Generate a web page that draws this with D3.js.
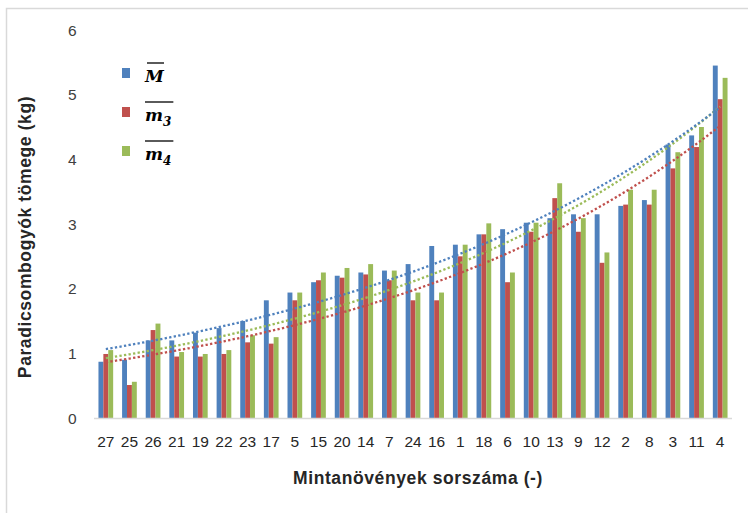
<!DOCTYPE html>
<html>
<head>
<meta charset="utf-8">
<script src="https://cdn.jsdelivr.net/npm/d3@7/dist/d3.min.js"></script>
<style>
  html, body { margin: 0; padding: 0; background: #fff; }
  svg { display: block; }
</style>
</head>
<body>
<svg id="chart" width="748" height="513"></svg>
<script>
// Plant serial numbers, ordered by increasing fruit mass
const categories = ["27","25","26","21","19","22","23","17","5","15","20","14","7","24","16","1","18","6","10","13","9","12","2","8","3","11","4"];

// Mean fruit mass per plant (kg) for the three measures
const valuesM  = [0.87,0.90,1.20,1.20,1.32,1.39,1.50,1.82,1.94,2.10,2.20,2.25,2.28,2.38,2.66,2.68,2.84,2.92,3.02,3.09,3.15,3.15,3.28,3.37,4.23,4.37,5.45];
const valuesM3 = [0.99,0.51,1.36,0.95,0.95,0.99,1.17,1.15,1.82,2.13,2.17,2.22,2.13,1.82,1.82,2.50,2.84,2.10,2.88,3.40,2.88,2.40,3.30,3.30,3.86,4.19,4.93];
const valuesM4 = [1.05,0.56,1.46,1.02,0.99,1.05,1.28,1.25,1.94,2.25,2.32,2.38,2.28,1.94,1.94,2.68,3.01,2.25,3.02,3.63,3.09,2.56,3.53,3.53,4.11,4.50,5.26];

const yTicks = [0,1,2,3,4,5,6];
const seriesKeys = ["M","m3","m4"];
const seriesColors = ["#4f81bd","#c0504d","#9bbb59"];

const series = [
  { key: "M",  values: valuesM,  color: seriesColors[0] },
  { key: "m3", values: valuesM3, color: seriesColors[1] },
  { key: "m4", values: valuesM4, color: seriesColors[2] }
];

const svg = d3.select("#chart");
const W = 748, H = 513;
const plot = { left: 94, right: 732, top: 30, bottom: 418 };
const sans = "Liberation Sans, Arial, sans-serif";

svg.append("rect").attr("width", W).attr("height", H).attr("fill", "#fff");

// chart frame
svg.append("path")
  .attr("d", `M6.5,${H} V8.5 H${W}`)
  .attr("fill", "none")
  .attr("stroke", "#d9d9d9")
  .attr("stroke-width", 1.5);

const x = d3.scaleBand().domain(categories).range([plot.left, plot.right]).padding(0);
const bw = x.bandwidth();
const groupW = 14.7;
const x1 = d3.scaleBand().domain(seriesKeys).range([(bw - groupW) / 2, (bw + groupW) / 2]).padding(0);
const y = d3.scaleLinear().domain([0, 6]).range([plot.bottom, plot.top]);

// y tick labels
svg.append("g")
  .selectAll("text")
  .data(yTicks)
  .join("text")
  .attr("x", 76.5)
  .attr("y", d => y(d))
  .attr("dy", "0.36em")
  .attr("text-anchor", "end")
  .attr("font-family", sans)
  .attr("font-size", 15.5)
  .attr("fill", "#404040")
  .text(d => d);

// bars
const bars = svg.append("g");
series.forEach(s => {
  bars.append("g")
    .selectAll("rect")
    .data(s.values)
    .join("rect")
    .attr("x", (d, i) => x(categories[i]) + x1(s.key))
    .attr("width", x1.bandwidth())
    .attr("y", d => y(d))
    .attr("height", d => y(0) - y(d))
    .attr("fill", s.color);
});

// category axis baseline
svg.append("line")
  .attr("x1", plot.left).attr("x2", plot.right)
  .attr("y1", plot.bottom + 0.5).attr("y2", plot.bottom + 0.5)
  .attr("stroke", "#d9d9d9")
  .attr("stroke-width", 1.5);

// category labels
svg.append("g")
  .selectAll("text")
  .data(categories)
  .join("text")
  .attr("x", d => x(d) + bw / 2)
  .attr("y", 447)
  .attr("text-anchor", "middle")
  .attr("font-family", sans)
  .attr("font-size", 15.5)
  .attr("fill", "#262626")
  .text(d => d);

// exponential trendlines: least-squares fit of ln(y) against category index
function expFit(vals) {
  const xs = vals.map((v, i) => i + 1);
  const ls = vals.map(v => Math.log(v));
  const mx = d3.mean(xs), ml = d3.mean(ls);
  let sxy = 0, sxx = 0;
  xs.forEach((xv, i) => { sxy += (xv - mx) * (ls[i] - ml); sxx += (xv - mx) * (xv - mx); });
  const b = sxy / sxx, a = ml - b * mx;
  return xv => Math.exp(a + b * xv);
}

const trends = svg.append("g");
[series[1], series[2], series[0]].forEach(s => {
  const f = expFit(s.values);
  const pts = d3.range(0, categories.length - 1 + 0.001, 0.25)
    .map(t => ({ px: plot.left + bw / 2 + t * bw, v: f(t + 1) }));
  trends.append("path")
    .attr("d", d3.line().x(d => d.px).y(d => y(d.v))(pts))
    .attr("fill", "none")
    .attr("stroke", s.color)
    .attr("stroke-width", 2.3)
    .attr("stroke-dasharray", "2.3 2.3");
});

// axis titles
svg.append("text")
  .attr("x", 418)
  .attr("y", 484)
  .attr("text-anchor", "middle")
  .attr("font-family", sans)
  .attr("font-weight", "bold")
  .attr("font-size", 17.5)
  .attr("letter-spacing", 0.6)
  .attr("fill", "#262626")
  .text("Mintanövények sorszáma (-)");

svg.append("text")
  .attr("transform", "translate(31,237) rotate(-90)")
  .attr("text-anchor", "middle")
  .attr("font-family", sans)
  .attr("font-weight", "bold")
  .attr("font-size", 17.5)
  .attr("letter-spacing", 0.6)
  .attr("fill", "#262626")
  .text("Paradicsombogyók tömege (kg)");

// legend
const legendY = [68, 107, 146];
const legend = svg.append("g");
series.forEach((s, k) => {
  const g = legend.append("g");
  g.append("rect")
    .attr("x", 122).attr("y", legendY[k])
    .attr("width", 8).attr("height", 10)
    .attr("fill", s.color);
  const t = g.append("text")
    .attr("x", 145)
    .attr("y", legendY[k] + 13.5)
    .attr("font-family", "DejaVu Serif, Liberation Serif, serif")
    .attr("font-style", "italic")
    .attr("font-weight", "bold")
    .attr("font-size", 17)
    .attr("fill", "#000");
  if (s.key === "M") {
    t.text("M");
  } else {
    t.append("tspan").text("m");
    t.append("tspan").attr("font-size", 12).attr("dy", 5).text(s.key.slice(1));
  }
  const bb = t.node().getBBox();
  g.append("line")
    .attr("x1", s.key === "M" ? bb.x + 3 : bb.x)
    .attr("x2", s.key === "M" ? bb.x + bb.width - 1 : bb.x + bb.width + 2)
    .attr("y1", legendY[k] - 5).attr("y2", legendY[k] - 5)
    .attr("stroke", "#000")
    .attr("stroke-width", 1.3);
});
</script>
</body>
</html>
